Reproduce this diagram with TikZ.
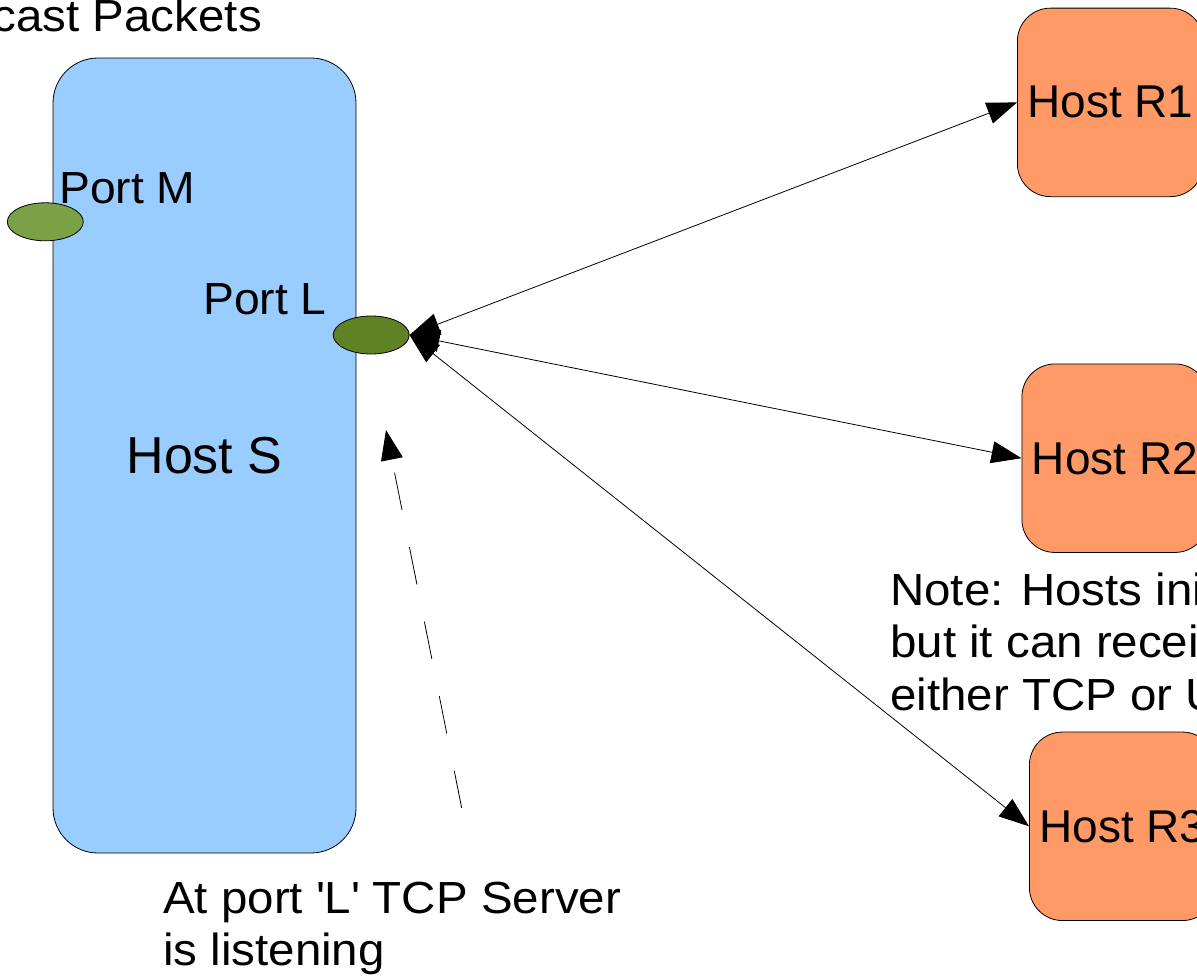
\documentclass[tikz,border=0pt]{standalone}
\usepackage{fontspec}
\setmainfont{Liberation Sans}
\newfontfamily\widesans[FakeStretch=1.055]{Liberation Sans}
\newfontfamily\portsans[FakeStretch=1.028]{Liberation Sans}
\usetikzlibrary{arrows.meta,shapes.geometric}
\definecolor{hostblue}{HTML}{99CCFF}
\definecolor{hostorange}{HTML}{FF9966}
\definecolor{portlight}{RGB}{122,161,70}
\definecolor{portdark}{RGB}{94,130,36}

\begin{document}
\begin{tikzpicture}[x=1pt,y=-1pt,
  >={Triangle[length=30pt,width=22pt]},
  server/.style={draw=black, line width=0.8pt, fill=hostblue, rounded corners=45pt,
    minimum width=303pt, minimum height=795pt, inner sep=0pt,
    font=\fontsize{52}{58}\selectfont},
  receiver/.style={draw=black, line width=0.8pt, fill=hostorange, rounded corners=33pt,
    minimum width=186pt, minimum height=188.5pt, inner sep=0pt,
    font=\fontsize{46}{53}\selectfont},
  port/.style={ellipse, draw=black, line width=0.8pt, minimum width=76pt,
    minimum height=38pt, inner sep=0pt},
  portname/.style={inner sep=0pt, font=\portsans\fontsize{45}{52.5}\selectfont},
  caption/.style={inner sep=0pt, font=\widesans\fontsize{45}{52.5}\selectfont},
  link/.style={line width=0.8pt, <->},
  listen/.style={line width=0.8pt, dash pattern=on 38pt off 38pt, ->}
]
\useasboundingbox (0,0) rectangle (1197,979);

% server host with its two ports
\node[server] (hostS) at (204.5,455.5) {Host S};
\node[port, fill=portlight] (portM) at (45.3,221.8) {};
\node[port, fill=portdark] (portL) at (371.2,335) {};
\node[portname, anchor=base west] (portMlabel) at (59,203.3) {Port M};
\node[portname, anchor=base west] (portLlabel) at (203,314.3) {Port L};
\node[caption, anchor=base east] (mcast) at (262,31.7) {cast Packets};

% receiving hosts
\node[receiver, anchor=west] (r1) at (1017,102.4) {Host R1};
\node[receiver, anchor=west] (r2) at (1021.5,458.2) {Host R2};
\node[receiver, anchor=west] (r3) at (1029,826.3) {Host R3};

% connections between port L and the receivers
\draw[link] (portL.east) -- (r1.west);
\draw[link] (portL.east) -- (r2.west);
\draw[link] (portL.east) -- (r3.west);

% listening socket indicator
\coordinate (listenFrom) at (461.7,808);
\coordinate (listenTo) at (386,430);
\draw[listen] (listenFrom) -- (listenTo);

% notes
\node[caption, anchor=base west] (note) at (890,605)
  {\vtop{\hbox{Note: Hosts ini}\hbox{but it can recei}\hbox{either TCP or U}}};
\node[caption, anchor=base west] (server) at (163,913.3)
  {\vtop{\hbox{At port \textquotesingle L\textquotesingle{} TCP Server}\hbox{is listening}}};
\end{tikzpicture}
\end{document}
